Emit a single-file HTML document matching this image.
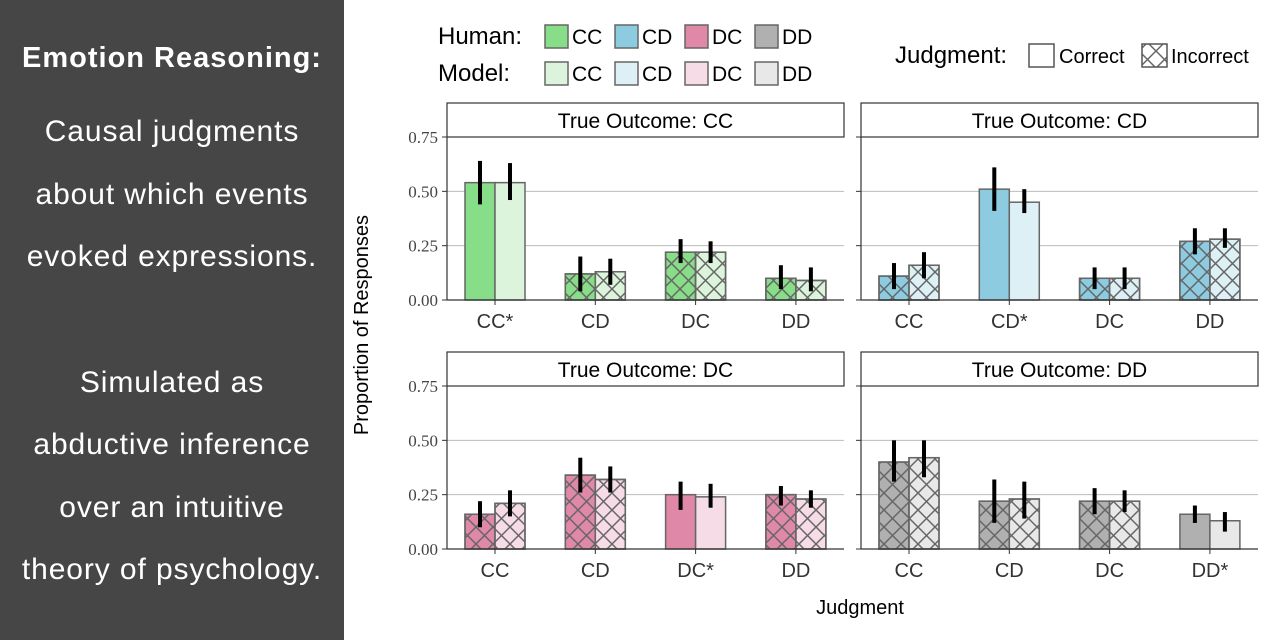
<!DOCTYPE html>
<html><head><meta charset="utf-8"><style>
body{margin:0;width:1280px;height:640px;background:#fff;overflow:hidden;font-family:"Liberation Sans",sans-serif;}
#side{position:absolute;left:0;top:0;width:344px;height:640px;background:#464646;color:#fff;}
#side div{position:absolute;left:0;width:344px;text-align:center;font-size:30px;letter-spacing:0.9px;white-space:nowrap;}
svg{position:absolute;left:0;top:0;}
</style></head><body>
<div id="side">
<div style="top:42px;font-weight:bold;font-size:29px;letter-spacing:1px">Emotion Reasoning:</div>
<div style="top:115px">Causal judgments</div>
<div style="top:178px">about which events</div>
<div style="top:240px">evoked expressions.</div>
<div style="top:366px">Simulated as</div>
<div style="top:428px">abductive inference</div>
<div style="top:491px">over an intuitive</div>
<div style="top:553px">theory of psychology.</div>
</div>
<svg id="chart" width="1280" height="640">
<defs>
<pattern id="hatch" patternUnits="userSpaceOnUse" width="17" height="17">
<path d="M0,0L17,17M17,0L0,17" stroke="#666" stroke-width="1.5"/>
</pattern>
</defs>
<g id="legend"></g>
<g id="panels"></g>
<text x="368" y="325" transform="rotate(-90 368 325)" text-anchor="middle" font-size="20" font-family="Liberation Sans">Proportion of Responses</text>
<text x="860" y="614" text-anchor="middle" font-size="20" font-family="Liberation Sans">Judgment</text>
</svg>
<script>
const categories = ["CC","CD","DC","DD"];
const humanColors = ["#88dd88","#8ccbe0","#e088a8","#b0b0b0"];
const modelColors = ["#dcf4dc","#dcf0f6","#f6dce6","#e8e8e8"];
const yTicks = [0,0.25,0.5,0.75];
const yTickLabels = ["0.00","0.25","0.50","0.75"];
// per panel (true outcome), per judgment
const humanVals = [[0.54,0.12,0.22,0.10],[0.11,0.51,0.10,0.27],[0.16,0.34,0.25,0.25],[0.40,0.22,0.22,0.16]];
const humanLo   = [[0.44,0.04,0.17,0.05],[0.05,0.41,0.05,0.21],[0.10,0.26,0.18,0.20],[0.31,0.12,0.16,0.12]];
const humanHi   = [[0.64,0.20,0.28,0.16],[0.17,0.61,0.15,0.33],[0.22,0.42,0.31,0.29],[0.50,0.32,0.28,0.20]];
const modelVals = [[0.54,0.13,0.22,0.09],[0.16,0.45,0.10,0.28],[0.21,0.32,0.24,0.23],[0.42,0.23,0.22,0.13]];
const modelLo   = [[0.46,0.07,0.17,0.04],[0.10,0.40,0.05,0.24],[0.15,0.26,0.19,0.19],[0.33,0.14,0.17,0.08]];
const modelHi   = [[0.63,0.19,0.27,0.15],[0.22,0.51,0.15,0.33],[0.27,0.38,0.30,0.27],[0.50,0.31,0.27,0.17]];

const NS="http://www.w3.org/2000/svg";
function mk(tag,attrs,parent){const e=document.createElementNS(NS,tag);for(const k in attrs)e.setAttribute(k,attrs[k]);parent.appendChild(e);return e;}
const panelsG=document.getElementById('panels');
const layout=[{x:447,y:103},{x:861,y:103},{x:447,y:352},{x:861,y:352}];
const PW=397, STRIP=34, PH=163;
layout.forEach((L,p)=>{
  const g=mk('g',{},panelsG);
  
  
  const top=L.y+STRIP, bot=top+PH;
  const yS=v=>bot-v/0.75*PH;
  const xS=i=>L.x+48+i*100.3;
  yTicks.forEach((t,i)=>{
    if(t>0&&t<0.75){const gl=mk('line',{x1:L.x,x2:L.x+PW,y1:yS(t),y2:yS(t),stroke:'#bbb','stroke-width':1},g);
      }
    mk('line',{x1:L.x-5,x2:L.x,y1:yS(t),y2:yS(t),stroke:'#333','stroke-width':1},g);
    if(p%2==0){const tl=mk('text',{x:L.x-9,y:yS(t)+6,'text-anchor':'end','font-size':17,'font-family':'Liberation Serif',fill:'#444'},g);
      tl.textContent=yTickLabels[i];}
  });
  categories.forEach((c,i)=>{
    const cx=xS(i);
    [[humanVals,humanLo,humanHi,humanColors,-30],[modelVals,modelLo,modelHi,modelColors,0]].forEach(([V,Lo,Hi,C,off],s)=>{
      const v=V[p][i];
      const r=mk('rect',{x:cx+off,y:yS(v),width:30,height:bot-yS(v),fill:C[p],stroke:'#666','stroke-width':1.5},g);
      
      
      if(i!==p){const h=mk('rect',{x:cx+off,y:yS(v),width:30,height:bot-yS(v),fill:'url(#hatch)',stroke:'#666','stroke-width':1.5},g);
        }
      const e=mk('line',{x1:cx+off+15,x2:cx+off+15,y1:yS(Lo[p][i]),y2:yS(Hi[p][i]),stroke:'#000','stroke-width':4},g);
      
    });
    mk('line',{x1:cx,x2:cx,y1:bot,y2:bot+5,stroke:'#333'},g);
    const xl=mk('text',{x:cx,y:bot+28,'text-anchor':'middle','font-size':20,fill:'#333'},g);
    xl.textContent=c+(i===p?'*':'');
  });
  mk('rect',{x:L.x,y:L.y,width:PW,height:STRIP,fill:'#fff',stroke:'#333','stroke-width':1.2},g);
  const st=mk('text',{x:L.x+PW/2,y:L.y+25,'text-anchor':'middle','font-size':21},g);
  st.textContent='True Outcome:  '+categories[p];
  mk('line',{x1:L.x,x2:L.x,y1:top,y2:bot,stroke:'#333','stroke-width':1.2},g);
  mk('line',{x1:L.x,x2:L.x+PW,y1:bot,y2:bot,stroke:'#333','stroke-width':1.2},g);
});
// legend
const lg=document.getElementById('legend');
[['Human:',humanColors,36],['Model:',modelColors,73]].forEach(([lab,cols,y])=>{
  const t=mk('text',{x:438,y:y+8,'font-size':24},lg);t.textContent=lab;
  
  categories.forEach((c,i)=>{
    const x=545+i*70;
    const r=mk('rect',{x:x,y:y-11,width:23,height:23,fill:cols[i],stroke:'#666','stroke-width':1.5},lg);
    
    const tt=mk('text',{x:x+27,y:y+8,'font-size':21},lg);tt.textContent=c;
    
  });
});
const jt=mk('text',{x:895,y:63,'font-size':24},lg);jt.textContent='Judgment:';

mk('rect',{x:1029,y:44,width:25,height:23,fill:'#fff',stroke:'#555','stroke-width':1.5},lg);
const ct=mk('text',{x:1059,y:63,'font-size':20},lg);ct.textContent='Correct';

mk('rect',{x:1142,y:44,width:25,height:23,fill:'url(#hatch)',stroke:'#555','stroke-width':1.5},lg);
const it=mk('text',{x:1171,y:63,'font-size':20},lg);it.textContent='Incorrect';

</script>
</body></html>
